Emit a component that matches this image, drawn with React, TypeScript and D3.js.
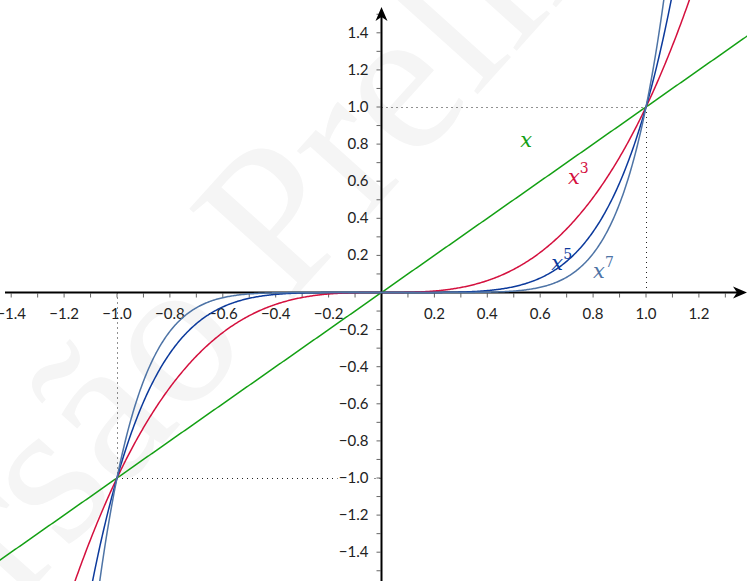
import React from "react";
import * as d3 from "d3";

const W = 747;
const H = 581;

const exponents = [1, 3, 5, 7];
const seriesColors = ["#14a014", "#d4103e", "#0c3a9c", "#4e74a6"];
const seriesLabelText = ["x", "x", "x", "x"];
const seriesLabelSup = ["", "3", "5", "7"];
const labelAnchors = [
  [0.525, 0.785],
  [0.705, 0.585],
  [0.642, 0.12],
  [0.8, 0.08],
];

const xTickMajor = [-1.4, -1.2, -1.0, -0.8, -0.6, -0.4, -0.2, 0.2, 0.4, 0.6, 0.8, 1.0, 1.2];
const yTickMajor = [-1.4, -1.2, -1.0, -0.8, -0.6, -0.4, -0.2, 0.2, 0.4, 0.6, 0.8, 1.0, 1.2, 1.4];
const xTickMinor = d3.range(-14, 14).map((i) => i / 10).filter((v) => Math.abs(v) > 1e-9);
const yTickMinor = d3.range(-15, 16).map((i) => i / 10).filter((v) => Math.abs(v) > 1e-9);

const fmt = (v: number) => (v < 0 ? "\u2212" : "") + Math.abs(v).toFixed(1);

export default function App() {
  const x = d3.scaleLinear().domain([-1, 1]).range([117, 646]);
  const y = d3.scaleLinear().domain([-1, 1]).range([478, 107]);
  const x0 = x(0);
  const y0 = y(0);
  const c = (v: number) => Math.round(v) + 0.5;

  const xs = d3.range(-1.5, 1.45, 0.004);
  const line = d3
    .line<[number, number]>()
    .x((d) => x(d[0]))
    .y((d) => y(d[1]));

  const tickFont = "Lato, 'Open Sans', sans-serif";
  const mathFont = "'DejaVu Serif', 'Liberation Serif', serif";

  return (
    <svg
      width={W}
      height={H}
      style={{ position: "absolute", left: 0, top: 0, background: "#fff" }}
    >
      <defs>
        <clipPath id="clip">
          <rect x={0} y={0} width={W} height={H} />
        </clipPath>
      </defs>
      {/* watermark */}
      <text
        transform="translate(-130,769) rotate(-48)"
        fontFamily="'Liberation Serif', serif"
        fontSize={210}
        fill="#f5f5f5"
      >
        Versão Preliminar
      </text>

      {/* dotted guides */}
      <g stroke="#222" strokeWidth={1} strokeDasharray="1,4" fill="none">
        <line x1={x0} y1={c(y(1))} x2={x(1)} y2={c(y(1))} />
        <line x1={c(x(1))} y1={y(1)} x2={c(x(1))} y2={y0} />
        <line x1={c(x(-1))} y1={y0} x2={c(x(-1))} y2={y(-1)} />
        <line x1={x(-1)} y1={c(y(-1))} x2={x0 - 44} y2={c(y(-1))} />
        <line x1={x0 - 7} y1={c(y(-1))} x2={x0} y2={c(y(-1))} />
      </g>

      {/* ticks */}
      <g stroke="#666" strokeWidth={1}>
        {xTickMinor.map((v) => (
          <line key={"xt" + v} x1={x(v)} x2={x(v)} y1={y0 + 1} y2={y0 + 5} />
        ))}
        {yTickMinor.map((v) => (
          <line key={"yt" + v} x1={x0 - 5} x2={x0 - 1} y1={y(v)} y2={y(v)} />
        ))}
      </g>

      {/* tick labels */}
      <g fontFamily={tickFont} fontSize={15} fill="#222">
        {xTickMajor.map((v) => (
          <text key={"xl" + v} x={x(v)} y={y0 + 26} textAnchor="middle">
            {fmt(v)}
          </text>
        ))}
        {yTickMajor.map((v) => (
          <text key={"yl" + v} x={x0 - 13} y={y(v) + 5} textAnchor="end">
            {fmt(v)}
          </text>
        ))}
      </g>

      {/* axes */}
      <g stroke="#000" strokeWidth={2}>
        <line x1={5} y1={y0} x2={738} y2={y0} />
        <line x1={x0} y1={H} x2={x0} y2={16} />
      </g>
      <path d={`M747,${y0} L733,${y0 - 6} L737,${y0} L733,${y0 + 6} Z`} fill="#000" />
      <path d={`M${x0},7 L${x0 - 6},21 L${x0},17 L${x0 + 6},21 Z`} fill="#000" />

      {/* curves */}
      <g clipPath="url(#clip)" fill="none" strokeWidth={1.5}>
        {exponents.map((n, i) => (
          <path
            key={"c" + n}
            d={line(xs.map((t) => [t, Math.pow(t, n)] as [number, number])) || ""}
            stroke={seriesColors[i]}
          />
        ))}
      </g>

      {/* curve labels */}
      {exponents.map((n, i) => (
        <text
          key={"lab" + n}
          x={x(labelAnchors[i][0])}
          y={y(labelAnchors[i][1])}
          fontFamily={mathFont}
          fontStyle="italic"
          fontSize={21}
          fill={seriesColors[i]}
        >
          {seriesLabelText[i]}
          {seriesLabelSup[i] && (
            <tspan dy={-11} fontSize={14} fontStyle="normal">
              {seriesLabelSup[i]}
            </tspan>
          )}
        </text>
      ))}
    </svg>
  );
}
